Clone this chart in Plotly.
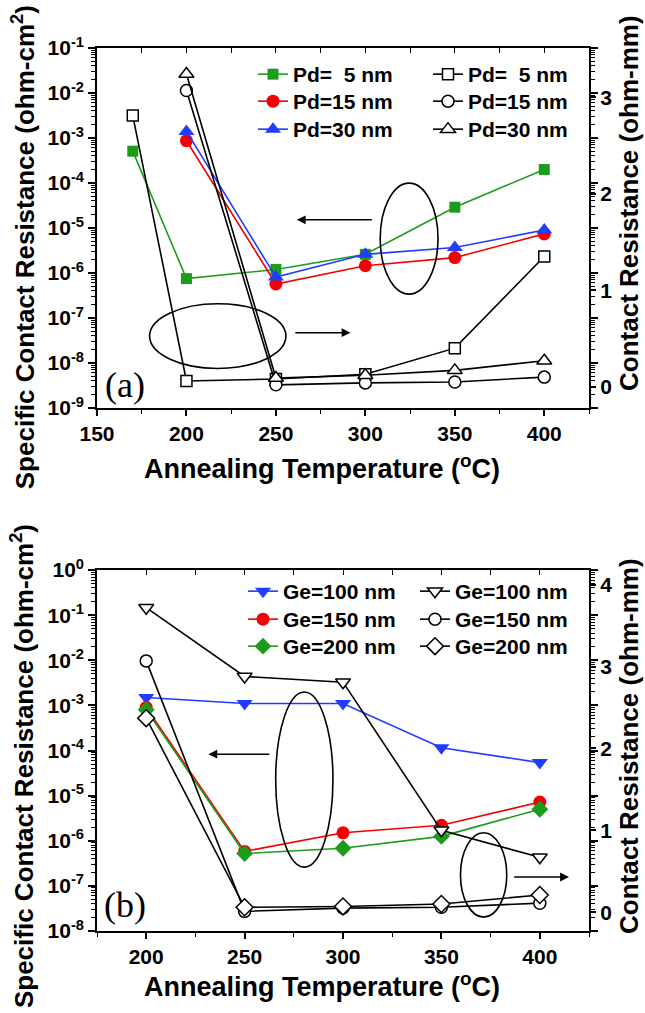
import plotly.graph_objects as go

# ---------------- data ----------------
temps_a5 = [170, 200, 250, 300, 350, 400]
temps_a = [200, 250, 300, 350, 400]
rc_pd5 = [5.1e-4, 7.5e-7, 1.2e-6, 2.6e-6, 2.9e-5, 2.0e-4]
rc_pd15 = [8.7e-4, 5.7e-7, 1.45e-6, 2.2e-6, 7.4e-6]
rc_pd30 = [1.4e-3, 8.1e-7, 2.6e-6, 3.7e-6, 9.0e-6]
rmm_pd5 = [2.81, 0.06, 0.08, 0.13, 0.40, 1.35]
rmm_pd15 = [3.07, 0.02, 0.04, 0.05, 0.10]
rmm_pd30 = [3.24, 0.09, 0.12, 0.17, 0.27]

temps_b = [200, 250, 300, 350, 400]
rc_ge100 = [1.5e-3, 1.1e-3, 1.1e-3, 1.15e-4, 5.4e-5]
rc_ge150 = [9.0e-4, 5.8e-7, 1.5e-6, 2.2e-6, 7.2e-6]
rc_ge200 = [8.0e-4, 5.2e-7, 6.8e-7, 1.25e-6, 5.0e-6]
rmm_ge100 = [3.72, 2.88, 2.81, 1.00, 0.67]
rmm_ge150 = [3.07, 0.01, 0.05, 0.06, 0.11]
rmm_ge200 = [2.37, 0.06, 0.07, 0.10, 0.21]

labels_pd = ["Pd=\u00a0\u00a05 nm", "Pd=15 nm", "Pd=30 nm"]
labels_ge = ["Ge=100 nm", "Ge=150 nm", "Ge=200 nm"]

logticks_a = [1e-9, 1e-8, 1e-7, 1e-6, 1e-5, 1e-4, 1e-3, 1e-2, 1e-1]
logtext_a = ["10<sup>-9</sup>", "10<sup>-8</sup>", "10<sup>-7</sup>", "10<sup>-6</sup>",
             "10<sup>-5</sup>", "10<sup>-4</sup>", "10<sup>-3</sup>", "10<sup>-2</sup>",
             "10<sup>-1</sup>"]
logticks_b = [1e-8, 1e-7, 1e-6, 1e-5, 1e-4, 1e-3, 1e-2, 1e-1, 1e0]
logtext_b = ["10<sup>-8</sup>", "10<sup>-7</sup>", "10<sup>-6</sup>", "10<sup>-5</sup>",
             "10<sup>-4</sup>", "10<sup>-3</sup>", "10<sup>-2</sup>", "10<sup>-1</sup>",
             "10<sup>0</sup>"]

GREEN = "#1c9c1c"
RED = "#f50000"
BLUE = "#1f3cff"
FONT = "Liberation Sans, Arial, sans-serif"

fig = go.Figure()


def filled(x, y, name, color, symbol, size, xa, ya, legend):
    fig.add_trace(go.Scatter(
        x=x, y=y, name=name, mode="lines+markers", xaxis=xa, yaxis=ya, legend=legend,
        line=dict(color=color, width=1.6),
        marker=dict(symbol=symbol, size=size, color=color, line=dict(width=0))))


def opened(x, y, name, symbol, size, xa, ya, legend):
    fig.add_trace(go.Scatter(
        x=x, y=y, name=name, mode="lines+markers", xaxis=xa, yaxis=ya, legend=legend,
        line=dict(color="black", width=1.6),
        marker=dict(symbol=symbol, size=size, color="white",
                    line=dict(color="black", width=1.5))))


# ---- panel (a) ----
filled(temps_a5, rc_pd5, labels_pd[0], GREEN, "square", 11, "x", "y", "legend")
filled(temps_a, rc_pd15, labels_pd[1], RED, "circle", 13, "x", "y", "legend2")
filled(temps_a, rc_pd30, labels_pd[2], BLUE, "triangle-up", 14, "x", "y", "legend3")
opened(temps_a5, rmm_pd5, labels_pd[0], "square", 11, "x", "y2", "legend4")
opened(temps_a, rmm_pd15, labels_pd[1], "circle", 12, "x", "y2", "legend5")
opened(temps_a, rmm_pd30, labels_pd[2], "triangle-up", 13, "x", "y2", "legend6")

# ---- panel (b) ----
filled(temps_b, rc_ge100, labels_ge[0], BLUE, "triangle-down", 14, "x2", "y3", "legend7")
filled(temps_b, rc_ge150, labels_ge[1], RED, "circle", 13, "x2", "y3", "legend8")
filled(temps_b, rc_ge200, labels_ge[2], GREEN, "diamond", 13, "x2", "y3", "legend9")
opened(temps_b, rmm_ge100, labels_ge[0], "triangle-down", 13, "x2", "y4", "legend10")
opened(temps_b, rmm_ge150, labels_ge[1], "circle", 12, "x2", "y4", "legend11")
opened(temps_b, rmm_ge200, labels_ge[2], "diamond", 13, "x2", "y4", "legend12")

# dummy traces so the top tick overlay axes are drawn
fig.add_trace(go.Scatter(x=[], y=[], xaxis="x3", yaxis="y", showlegend=False))
fig.add_trace(go.Scatter(x=[], y=[], xaxis="x4", yaxis="y3", showlegend=False))

tickfont = dict(family=FONT, size=21, color="black", weight="bold")
line_kw = dict(showline=True, linecolor="black", linewidth=1.6, showgrid=False, zeroline=False)

xa_common = dict(ticks="outside", ticklen=6, tickwidth=1.5, tickcolor="black", dtick=50, tick0=0,
                 minor=dict(ticks="outside", ticklen=4, dtick=25, tickcolor="black", tickwidth=1.2),
                 mirror=True, tickfont=tickfont, **line_kw)
ylog_common = dict(type="log", tickmode="array", ticks="outside", ticklen=7, tickwidth=1.5,
                   tickcolor="black", mirror="ticks", tickfont=tickfont,
                   minor=dict(ticks="outside", ticklen=4, dtick="D1", tickcolor="black", tickwidth=1),
                   **line_kw)
y2_common = dict(ticks="outside", ticklen=6, tickwidth=1.5, tickcolor="black", dtick=1,
                 tickfont=tickfont, showline=False, showgrid=False, zeroline=False)
top_common = dict(side="top", ticks="inside", ticklen=5, tickwidth=1.3, tickcolor="black",
                  dtick=25, tick0=0, showticklabels=False, showline=False, showgrid=False,
                  zeroline=False)

TOP_D = [0.5923, 1.0]
BOT_D = [0.0, 0.4088]

fig.update_layout(
    width=645, height=1013,
    margin=dict(l=97, r=56, t=48, b=82),
    paper_bgcolor="white", plot_bgcolor="white",
    font=dict(family=FONT, color="black"),
    xaxis=dict(domain=[0, 1], anchor="y", range=[150, 425], **xa_common),
    yaxis=dict(domain=TOP_D, anchor="x", range=[-9, -1],
               tickvals=logticks_a, ticktext=logtext_a, **ylog_common),
    yaxis2=dict(overlaying="y", side="right", anchor="x", range=[-0.22, 3.51], **y2_common),
    xaxis3=dict(overlaying="x", anchor="y", range=[150, 425], **top_common),
    xaxis2=dict(domain=[0, 1], anchor="y3", range=[175, 425], **xa_common),
    yaxis3=dict(domain=BOT_D, anchor="x2", range=[-8, 0],
                tickvals=logticks_b, ticktext=logtext_b, **ylog_common),
    yaxis4=dict(overlaying="y3", side="right", anchor="x2", range=[-0.23, 4.18], **y2_common),
    xaxis4=dict(overlaying="x2", anchor="y3", range=[175, 425], **top_common),
    showlegend=True,
)

# one legend per entry so rows sit where the reference has them
legfont = dict(family=FONT, size=21, color="black", weight="bold")
leg_common = dict(bgcolor="rgba(0,0,0,0)", borderwidth=0, font=legfont, xanchor="left",
                  yanchor="top", itemwidth=30, orientation="v")


def py(px):
    return (931 - px) / 883


def pxx(px):
    return (px - 97) / 492


top_rows = [75, 102, 130]
bot_rows = [592, 620, 647]
OFF = 21
legs = {}
for i, r in enumerate(top_rows):
    legs["legend" if i == 0 else f"legend{i + 1}"] = dict(x=pxx(253), y=py(r - OFF), **leg_common)
    legs[f"legend{i + 4}"] = dict(x=pxx(428), y=py(r - OFF), **leg_common)
for i, r in enumerate(bot_rows):
    legs[f"legend{i + 7}"] = dict(x=pxx(243), y=py(r - OFF), **leg_common)
    legs[f"legend{i + 10}"] = dict(x=pxx(415), y=py(r - OFF), **leg_common)
fig.update_layout(**legs)

# ---- ellipses ----
ell = dict(type="circle", line=dict(color="black", width=1.6), fillcolor="rgba(0,0,0,0)", layer="above")
fig.add_shape(xref="x", yref="y2", x0=308.3, x1=340.6, y0=0.96, y1=2.11, **ell)
fig.add_shape(xref="x", yref="y2", x0=179.4, x1=255.6, y0=0.19, y1=0.86, **ell)
fig.add_shape(xref="x2", yref="y4", x0=265.8, x1=294.9, y0=0.55, y1=2.69, **ell)
fig.add_shape(xref="x2", yref="y4", x0=359.7, x1=383.2, y0=-0.06, y1=0.97, **ell)

arrow = dict(text="", showarrow=True, arrowhead=2, arrowsize=1.1, arrowwidth=1.6, arrowcolor="black")
fig.add_annotation(xref="x", yref="y2", axref="x", ayref="y2", x=261.7, y=1.73, ax=304.4, ay=1.73, **arrow)
fig.add_annotation(xref="x", yref="y2", axref="x", ayref="y2", x=291.7, y=0.56, ax=260.0, ay=0.56, **arrow)
fig.add_annotation(xref="x2", yref="y4", axref="x2", ayref="y4", x=231.6, y=1.93, ax=263.3, ay=1.93, **arrow)
fig.add_annotation(xref="x2", yref="y4", axref="x2", ayref="y4", x=414.8, y=0.43, ax=386.2, ay=0.43, **arrow)

# ---- panel labels ----
plab = dict(xref="paper", yref="paper", showarrow=False, xanchor="center", yanchor="middle",
            font=dict(family="Liberation Serif, Times New Roman, serif", size=36, color="black"))
fig.add_annotation(x=0.057, y=0.6183, text="(a)", **plab)
fig.add_annotation(x=0.057, y=0.0294, text="(b)", **plab)

# ---- axis titles (as annotations) ----
tfont = dict(family=FONT, size=26, color="black", weight="bold")
xfont = dict(family=FONT, size=27, color="black", weight="bold")
tt = dict(xref="paper", yref="paper", showarrow=False, xanchor="center", yanchor="middle")
xt = "Annealing Temperature (<sup>o</sup>C)"
lt = "Specific Contact Resistance (ohm-cm<sup>2</sup>)"
rt = "Contact Resistance (ohm-mm)"
fig.add_annotation(x=0.457, y=0.5255, text=xt, font=xfont, **tt)
fig.add_annotation(x=0.457, y=-0.0612, text=xt, font=xfont, **tt)
fig.add_annotation(x=-0.150, y=0.7746, text=lt, textangle=-90, font=tfont, **tt)
fig.add_annotation(x=-0.150, y=0.1870, text=lt, textangle=-90, font=tfont, **tt)
fig.add_annotation(x=pxx(629), y=0.8245, text=rt, textangle=-90, font=tfont, **tt)
fig.add_annotation(x=pxx(629), y=0.2095, text=rt, textangle=-90, font=tfont, **tt)

fig.write_html("out.html")
